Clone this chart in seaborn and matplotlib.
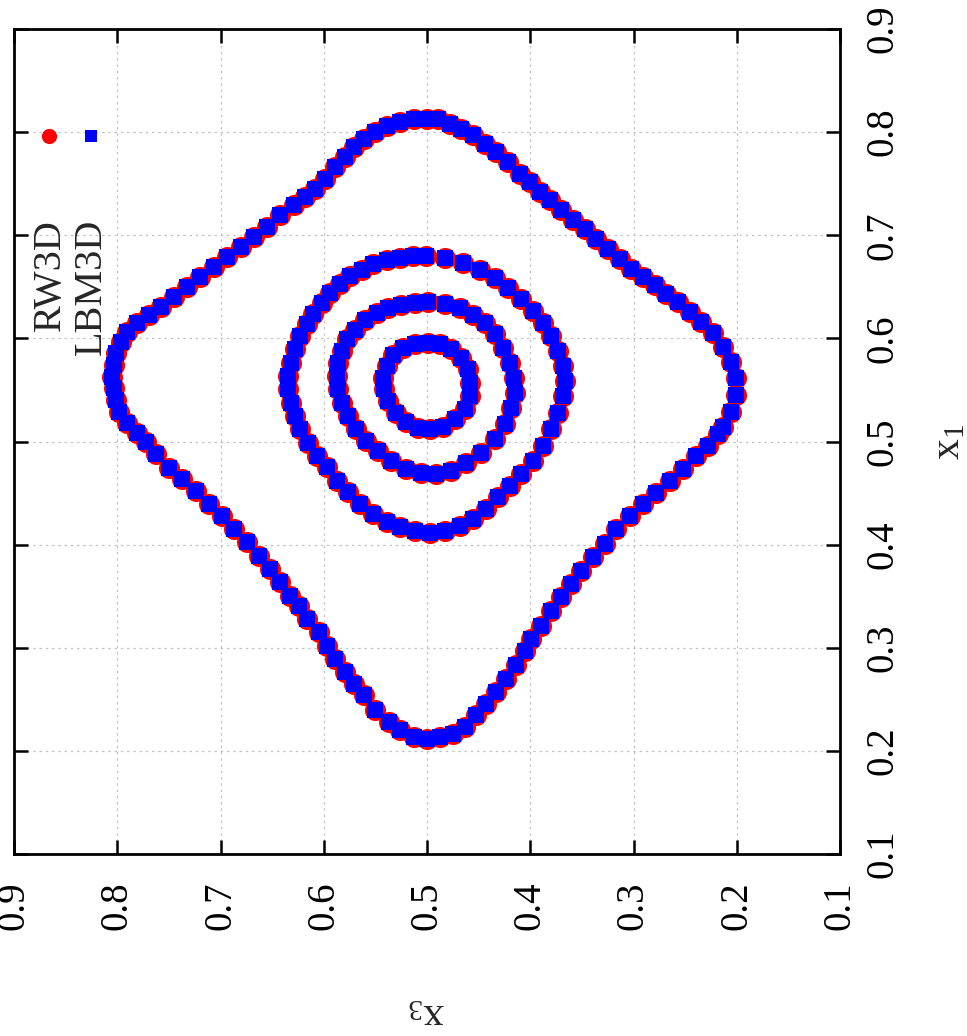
import numpy as np
import pandas as pd
import matplotlib
matplotlib.use('Agg')
import matplotlib.pyplot as plt
import seaborn as sns

## contour points (x3 = horizontal, x1 = vertical)
outer_x3 = [0.5000, 0.5129, 0.5258, 0.5387, 0.5500, 0.5613, 0.5710, 0.5790, 0.5887, 0.5984,
            0.6081, 0.6177, 0.6290, 0.6419, 0.6548, 0.6677, 0.6806, 0.6935, 0.7065, 0.7194,
            0.7323, 0.7452, 0.7581, 0.7694, 0.7806, 0.7903, 0.7968, 0.8016, 0.8032, 0.8048,
            0.8032, 0.8016, 0.7984, 0.7903, 0.7806, 0.7726,
            0.7629, 0.7500, 0.7371, 0.7242, 0.7113, 0.6984, 0.6871, 0.6742, 0.6629, 0.6516,
            0.6419, 0.6323, 0.6242, 0.6161, 0.6048, 0.5968, 0.5887, 0.5790, 0.5710, 0.5613,
            0.5500, 0.5371, 0.5258, 0.5129, 0.5000,
            0.4876, 0.4747, 0.4634, 0.4521, 0.4425, 0.4328, 0.4231, 0.4134, 0.4054, 0.3989,
            0.3892, 0.3796, 0.3699, 0.3602, 0.3505, 0.3392, 0.3280, 0.3167, 0.3038, 0.2908,
            0.2779, 0.2650, 0.2521, 0.2392, 0.2279, 0.2183,
            0.2134, 0.2054, 0.2005, 0.2005, 0.2054, 0.2134, 0.2231, 0.2344, 0.2457, 0.2570,
            0.2683, 0.2796, 0.2908, 0.3021, 0.3134, 0.3247, 0.3360, 0.3473, 0.3586, 0.3699,
            0.3812, 0.3908, 0.4005, 0.4102, 0.4215, 0.4328, 0.4441, 0.4554, 0.4667, 0.4779,
            0.4892]
outer_x1 = [0.8129, 0.8123, 0.8097, 0.8058, 0.8000, 0.7935, 0.7855, 0.7758, 0.7661, 0.7548,
            0.7452, 0.7371, 0.7290, 0.7194, 0.7081, 0.6984, 0.6887, 0.6790, 0.6694, 0.6597,
            0.6500, 0.6403, 0.6306, 0.6226, 0.6145, 0.6065, 0.5968, 0.5855, 0.5742, 0.5629,
            0.5516, 0.5403, 0.5290, 0.5177, 0.5081, 0.5000,
            0.4876, 0.4747, 0.4634, 0.4521, 0.4392, 0.4273, 0.4150, 0.4021, 0.3892, 0.3763,
            0.3634, 0.3505, 0.3408, 0.3279, 0.3150, 0.3021, 0.2892, 0.2763, 0.2650, 0.2537,
            0.2392, 0.2279, 0.2199, 0.2134, 0.2118,
            0.2134, 0.2166, 0.2231, 0.2344, 0.2457, 0.2570, 0.2699, 0.2828, 0.2973, 0.3086,
            0.3215, 0.3360, 0.3489, 0.3618, 0.3747, 0.3876, 0.4005, 0.4150, 0.4279, 0.4392,
            0.4505, 0.4618, 0.4731, 0.4860, 0.4957, 0.5070,
            0.5145, 0.5290, 0.5452, 0.5613, 0.5774, 0.5919, 0.6048, 0.6161, 0.6258, 0.6355,
            0.6435, 0.6516, 0.6597, 0.6677, 0.6774, 0.6871, 0.6968, 0.7065, 0.7145, 0.7242,
            0.7339, 0.7419, 0.7516, 0.7597, 0.7710, 0.7806, 0.7887, 0.7968, 0.8032, 0.8081,
            0.8123]

ring3_x3 = [0.5005, 0.5134, 0.5263, 0.5392, 0.5521, 0.5634, 0.5747, 0.5844, 0.5941, 0.6021,
            0.6102, 0.6167, 0.6231, 0.6280, 0.6321, 0.6344, 0.6344, 0.6321, 0.6280, 0.6231,
            0.6150, 0.6070, 0.5973, 0.5876, 0.5763, 0.5650, 0.5521, 0.5392, 0.5263, 0.5118,
            0.4973, 0.4828, 0.4683, 0.4554, 0.4425, 0.4312, 0.4199, 0.4086, 0.3973, 0.3876,
            0.3796, 0.3731, 0.3683, 0.3667, 0.3683, 0.3731, 0.3796, 0.3876, 0.3973, 0.4086,
            0.4215, 0.4344, 0.4489, 0.4650, 0.4828]
ring3_x1 = [0.6802, 0.6796, 0.6783, 0.6757, 0.6719, 0.6667, 0.6602, 0.6528, 0.6441, 0.6344,
            0.6241, 0.6135, 0.6022, 0.5893, 0.5764, 0.5635, 0.5506, 0.5377, 0.5248, 0.5119,
            0.4990, 0.4861, 0.4748, 0.4619, 0.4506, 0.4393, 0.4296, 0.4222, 0.4167, 0.4128,
            0.4112, 0.4135, 0.4183, 0.4248, 0.4344, 0.4457, 0.4570, 0.4683, 0.4812, 0.4957,
            0.5119, 0.5280, 0.5441, 0.5586, 0.5732, 0.5877, 0.6022, 0.6151, 0.6264, 0.6377,
            0.6490, 0.6586, 0.6667, 0.6731, 0.6780]

ring2_x3 = [0.4989, 0.5118, 0.5247, 0.5376, 0.5489, 0.5602, 0.5699, 0.5773, 0.5828, 0.5860,
            0.5870, 0.5860, 0.5828, 0.5763, 0.5683, 0.5586, 0.5473, 0.5344, 0.5199, 0.5054,
            0.4909, 0.4763, 0.4618, 0.4473, 0.4344, 0.4247, 0.4183, 0.4151, 0.4160, 0.4199,
            0.4263, 0.4344, 0.4441, 0.4554, 0.4683, 0.4828]
ring2_x1 = [0.6351, 0.6344, 0.6328, 0.6296, 0.6248, 0.6177, 0.6086, 0.5990, 0.5877, 0.5764,
            0.5635, 0.5506, 0.5377, 0.5248, 0.5119, 0.5006, 0.4909, 0.4812, 0.4738, 0.4693,
            0.4683, 0.4715, 0.4796, 0.4893, 0.5022, 0.5167, 0.5328, 0.5473, 0.5619, 0.5764,
            0.5909, 0.6038, 0.6151, 0.6231, 0.6296, 0.6338]

ring1_x3 = [0.4989, 0.5118, 0.5231, 0.5328, 0.5392, 0.5425, 0.5418, 0.5376, 0.5296, 0.5199,
            0.5086, 0.4973, 0.4844, 0.4731, 0.4634, 0.4586, 0.4580, 0.4602, 0.4667, 0.4763,
            0.4876]
ring1_x1 = [0.5957, 0.5948, 0.5909, 0.5835, 0.5731, 0.5619, 0.5506, 0.5393, 0.5280, 0.5189,
            0.5128, 0.5119, 0.5144, 0.5215, 0.5312, 0.5441, 0.5570, 0.5699, 0.5812, 0.5900,
            0.5948]

ticks = [0.1, 0.2, 0.3, 0.4, 0.5, 0.6, 0.7, 0.8, 0.9]
tick_labels = ['0.1', '0.2', '0.3', '0.4', '0.5', '0.6', '0.7', '0.8', '0.9']

################################################
def main():
  sns.set_theme(style='white')
  plt.rcParams['font.family'] = ['Liberation Serif', 'DejaVu Serif']
  plt.rcParams['mathtext.fontset'] = 'custom'
  plt.rcParams['mathtext.rm'] = 'Liberation Serif'
  plt.rcParams['mathtext.it'] = 'Liberation Serif:italic'

  df = pd.DataFrame({
      'x3': outer_x3 + ring3_x3 + ring2_x3 + ring1_x3,
      'x1': outer_x1 + ring3_x1 + ring2_x1 + ring1_x1})

  fig = plt.figure(figsize=(9.67, 10.36), dpi=100)
  ax = fig.add_axes([14/967, 1-854/1036, 826/967, 825/1036])

  ## RW3D underneath, LBM3D on top
  sns.scatterplot(data=df, x='x3', y='x1', ax=ax, color='#ff0000', marker='o',
                  s=230, linewidth=0, legend=False, zorder=3)
  sns.scatterplot(data=df, x='x3', y='x1', ax=ax, color='#0000ff', marker='s',
                  s=130, linewidth=0, legend=False, zorder=4)

  ax.set_xlim(0.9, 0.1)
  ax.set_ylim(0.1, 0.9)
  ax.set_xticks(ticks)
  ax.set_xticklabels(tick_labels, rotation=90)
  ax.set_yticks(ticks)
  ax.set_yticklabels(tick_labels, rotation=90, va='center')

  ax.tick_params(axis='both', direction='in', length=10, width=1.8,
                 labelsize=28, colors='black')
  ax.tick_params(axis='x', bottom=True, top=True, labelbottom=True, labeltop=False, pad=20)
  ax.tick_params(axis='y', left=True, right=True, labelleft=False, labelright=True, pad=18)

  ax.grid(True, color='#c4c4c4', linestyle=(0, (2, 3)), linewidth=0.9)
  ax.set_axisbelow(True)
  for s in ax.spines.values():
    s.set_linewidth(2.0)
    s.set_color('black')

  ax.set_xlabel(r'$\mathrm{x_3}$', fontsize=30, rotation=180, labelpad=46)
  ax.yaxis.set_label_position('right')
  ax.set_ylabel(r'$\mathrm{x_1}$', fontsize=30, rotation=90, labelpad=20)

  ## legend drawn by hand (rotated like the rest of the page)
  ax.scatter([0.0424], [0.870], transform=ax.transAxes, s=120, marker='o',
             color='#ff0000', linewidth=0, zorder=5)
  ax.scatter([0.0932], [0.870], transform=ax.transAxes, s=70, marker='s',
             color='#0000ff', linewidth=0, zorder=5)
  ax.text(0.0436, 0.770, 'RW3D', transform=ax.transAxes, rotation=90,
          ha='center', va='top', fontsize=29)
  ax.text(0.0932, 0.770, 'LBM3D', transform=ax.transAxes, rotation=90,
          ha='center', va='top', fontsize=29)

  fig.savefig('out.png', dpi=100, facecolor='white')

if __name__ == '__main__':
  main()
